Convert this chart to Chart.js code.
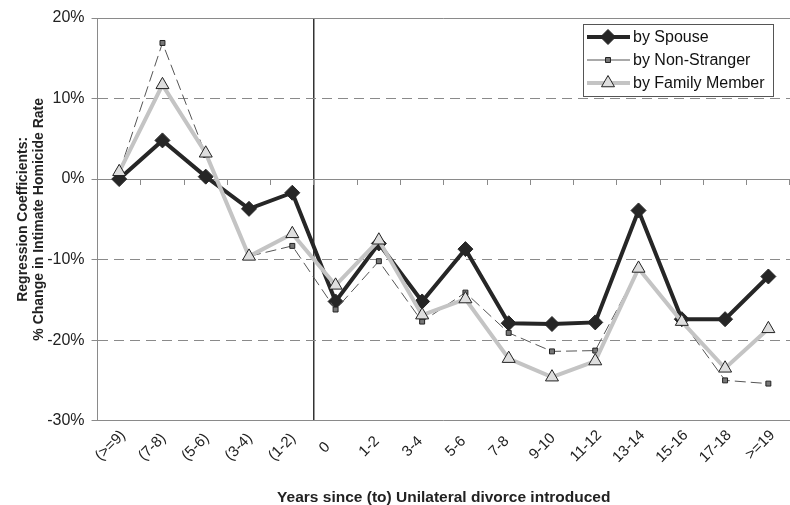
<!DOCTYPE html>
<html>
<head>
<meta charset="utf-8">
<script src="https://cdn.jsdelivr.net/npm/chart.js@4.4.1/dist/chart.umd.min.js"></script>
<style>
  html, body { margin: 0; padding: 0; background: #fff; }
  #wrap { width: 790px; height: 505px; }
</style>
</head>
<body>
<div id="wrap"><canvas id="chart"></canvas></div>
<script>
const labels = ['(>=9)', '(7-8)', '(5-6)', '(3-4)', '(1-2)', '0', '1-2', '3-4', '5-6', '7-8', '9-10', '11-12', '13-14', '15-16', '17-18', '>=19'];
const bySpouse = [0.0, 4.8, 0.3, -3.7, -1.7, -15.2, -8.0, -15.2, -8.7, -17.9, -18.0, -17.8, -3.9, -17.4, -17.4, -12.1];
const byNonStranger = [0.8, 16.9, 3.0, -9.6, -8.3, -16.2, -10.2, -17.7, -14.1, -19.1, -21.4, -21.3, -11.2, -17.6, -25.0, -25.4];
const byFamily = [0.9, 11.7, 3.2, -9.6, -6.8, -13.2, -7.6, -16.9, -14.9, -22.3, -24.6, -22.6, -11.1, -17.7, -23.5, -18.6];
const yMin = -30, yMax = 20, yStep = 10;
const markerIndex = 5; // boundary line before "0"

const FONT = "'Liberation Sans', Arial, sans-serif";
const GRID = '#8a8a8a';
const TICK_FONT = 15;

// rotated labels are centred in the reference: pad short ones with trailing spaces
const measure = document.createElement('canvas').getContext('2d');
measure.font = TICK_FONT + 'px ' + FONT;
const widths = labels.map(l => measure.measureText(l).width);
const maxW = Math.max(...widths);
const spaceW = measure.measureText(' ').width;
const padded = labels.map((l, i) => l + ' '.repeat(Math.round((maxW - widths[i]) / 2 / spaceW)));

// legend drawn inside the plot, top right
const legendBox = {
  id: 'legendBox',
  afterDraw(chart) {
    const ctx = chart.ctx;
    const area = chart.chartArea;
    const x = area.right - 207, y = area.top + 6, w = 190, h = 72;
    ctx.save();
    ctx.fillStyle = '#fff';
    ctx.fillRect(x, y, w, h);
    ctx.strokeStyle = '#555';
    ctx.lineWidth = 1;
    ctx.strokeRect(x + 0.5, y + 0.5, w, h);
    [0, 1, 2].forEach((di, row) => {
      const ds = chart.data.datasets[di];
      const cy = y + 13 + row * 23;
      ctx.beginPath();
      ctx.setLineDash([]);
      ctx.strokeStyle = ds.borderColor;
      ctx.lineWidth = ds.borderWidth;
      ctx.moveTo(x + 4, cy);
      ctx.lineTo(x + 47, cy);
      ctx.stroke();
      ctx.fillStyle = ds.pointBackgroundColor;
      ctx.strokeStyle = ds.pointBorderColor;
      ctx.lineWidth = ds.pointBorderWidth;
      Chart.helpers.drawPoint(ctx, {pointStyle: ds.pointStyle, radius: ds.pointRadius, borderWidth: ds.pointBorderWidth, rotation: 0}, x + 25, cy);
      ctx.fillStyle = '#111';
      ctx.font = '16px ' + FONT;
      ctx.textBaseline = 'middle';
      ctx.fillText(ds.label, x + 50, cy + 1);
    });
    ctx.restore();
  }
};

new Chart(document.getElementById('chart'), {
  type: 'line',
  data: {
    labels: labels,
    datasets: [
      {
        label: 'by Spouse', data: bySpouse, order: 2,
        borderColor: '#262626', borderWidth: 4,
        pointStyle: 'rectRot', pointRadius: 7.5,
        pointBackgroundColor: '#262626', pointBorderColor: '#262626', pointBorderWidth: 1
      },
      {
        label: 'by Non-Stranger', data: byNonStranger, order: 1,
        borderColor: '#555', borderWidth: 1, borderDash: [11, 5],
        pointStyle: 'rect', pointRadius: 3.5,
        pointBackgroundColor: '#777', pointBorderColor: '#222', pointBorderWidth: 1
      },
      {
        label: 'by Family Member', data: byFamily, order: 0,
        borderColor: '#c4c4c4', borderWidth: 4,
        pointStyle: 'triangle', pointRadius: 7.5,
        pointBackgroundColor: '#dedede', pointBorderColor: '#222', pointBorderWidth: 1
      }
    ]
  },
  options: {
    responsive: true,
    maintainAspectRatio: false,
    animation: false,
    layout: { autoPadding: false, padding: { top: 18, left: 15, right: 0, bottom: 0 } },
    plugins: {
      legend: { display: false },
      tooltip: { enabled: false }
    },
    scales: {
      x: {
        type: 'category',
        offset: true,
        afterFit: s => { s.paddingRight = 0; },
        grid: {
          offset: true,
          drawTicks: false,
          color: ctx => ctx.index === markerIndex ? '#333' : 'rgba(0,0,0,0)',
          lineWidth: 1.5
        },
        border: { display: true, color: GRID, width: 1 },
        ticks: {
          autoSkip: false, maxRotation: 45, minRotation: 45,
          color: '#222', font: { family: FONT, size: TICK_FONT }, padding: 6, labelOffset: 4,
          callback: (v, i) => padded[i]
        },
        title: {
          display: true, text: 'Years since (to) Unilateral divorce introduced',
          color: '#222', font: { family: FONT, size: 15.5, weight: 'bold', lineHeight: 1.0 }, padding: { top: 17, bottom: 0 }
        }
      },
      x0: {
        type: 'category',
        offset: true,
        position: { y: 0 },
        grid: { offset: true, drawOnChartArea: false, drawTicks: true, tickLength: 5, tickColor: GRID },
        border: { display: true, color: GRID, width: 1 },
        ticks: { display: false }
      },
      y: {
        min: yMin, max: yMax,
        afterFit: s => { s.width = s.width - 7; },
        grid: {
          color: ctx => (ctx.tick && (ctx.tick.value === yMax || ctx.tick.value === 0 || ctx.tick.value === yMin)) ? 'rgba(0,0,0,0)' : GRID,
          tickColor: GRID, tickLength: 6, lineWidth: 1
        },
        border: { display: true, color: GRID, width: 1, dash: [10, 6] },
        ticks: {
          stepSize: yStep,
          color: '#222', font: { family: FONT, size: 16 }, padding: 7,
          callback: v => v + '%'
        },
        title: {
          display: true, text: ['Regression Coefficients:', '% Change in Intimate Homicide Rate'],
          color: '#222', font: { family: FONT, size: 14, weight: 'bold', lineHeight: 1.15 }, padding: { top: 0, bottom: 0 }
        }
      },
      y2: {
        min: yMin, max: yMax,
        position: 'right',
        afterFit: s => { s.width = 0; },
        grid: {
          color: ctx => (ctx.tick && ctx.tick.value === yMax) ? GRID : 'rgba(0,0,0,0)',
          drawTicks: false
        },
        border: { display: false },
        ticks: { display: false, stepSize: yStep }
      }
    }
  },
  plugins: [legendBox]
});
</script>
</body>
</html>
